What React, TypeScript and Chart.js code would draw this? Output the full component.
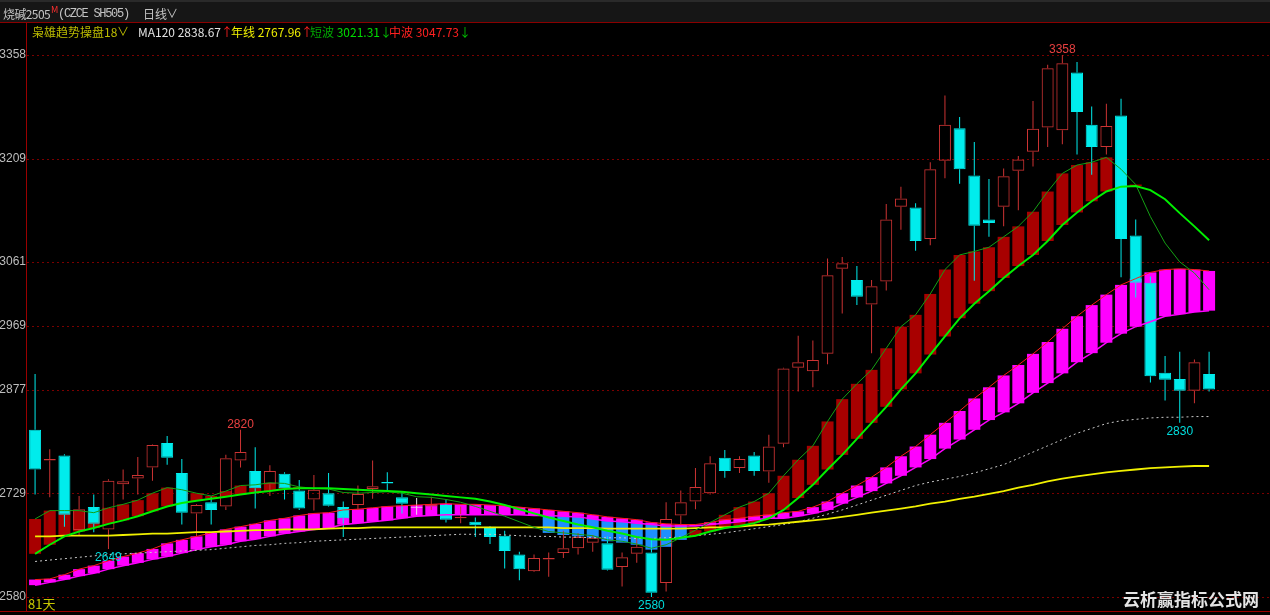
import React, { useEffect, useRef } from 'react';
import { Chart, registerables } from 'chart.js';

Chart.register(...registerables);

// ---------- data ----------
const OPEN = [2820,2776,2783,2676,2709,2677,2742,2750,2766,2801,
  2758,2700,2716,2710,2776,2761,2742,2757,2733,2720,
  2729,2709,2712,2735,2745,2723,2708,2710,2712,2693,
  2688,2681,2668,2641,2617,2634,2643,2650,2658,2657,
  2623,2642,2644,2600,2697,2717,2729,2780,2765,2783,
  2760,2800,2909,2904,2929,3051,3035,3000,3033,3140,
  3139,3094,3206,3253,3185,3122,3140,3192,3219,3254,
  3250,3333,3258,3226,3271,3099,3031,2902,2893,2876,
  2900];
const HIGH = [2900,2792,2785,2725,2727,2749,2763,2781,2799,2811,
  2778,2713,2724,2784,2820,2795,2769,2759,2748,2755,
  2758,2717,2740,2776,2759,2731,2722,2724,2720,2710,
  2694,2682,2675,2645,2641,2644,2675,2672,2669,2667,
  2644,2665,2662,2716,2733,2765,2782,2791,2782,2788,
  2813,2909,2955,2948,3066,3068,3055,3035,3144,3169,
  3145,3204,3300,3269,3233,3180,3195,3213,3292,3344,
  3358,3348,3284,3288,3295,3122,3040,2926,2932,2921,
  2932];
const LOW = [2727,2723,2681,2669,2673,2649,2720,2727,2747,2770,
  2684,2667,2684,2705,2766,2707,2725,2720,2705,2704,
  2710,2666,2705,2721,2732,2700,2698,2705,2687,2686,
  2666,2656,2621,2604,2616,2609,2636,2641,2645,2618,
  2595,2629,2580,2588,2684,2706,2727,2751,2758,2754,
  2744,2795,2875,2881,2914,2987,2999,2930,3020,3107,
  3077,3085,3181,3173,3034,3097,3112,3135,3198,3226,
  3230,3215,3186,3215,3039,3010,2888,2862,2830,2858,
  2875];
const CLOSE = [2763,2778,2698,2706,2685,2747,2746,2755,2798,2780,
  2701,2712,2705,2779,2788,2736,2761,2736,2707,2734,
  2711,2693,2728,2739,2743,2714,2708,2713,2691,2695,
  2683,2666,2646,2620,2636,2636,2650,2666,2665,2619,
  2637,2652,2586,2692,2716,2738,2772,2761,2778,2761,
  2796,2908,2917,2920,3042,3059,3011,3026,3122,3152,
  3091,3194,3258,3194,3113,3117,3184,3208,3252,3339,
  3346,3276,3226,3256,3094,3031,2897,2892,2876,2917,
  2878];

// 短波 (thin dark green)
const SHORT_WAVE = [2692,2704,2704,2704,2701,2708,2713,2719,2729,2737,
  2734,2729,2725,2732,2740,2741,2744,2743,2738,2736,
  2735,2730,2729,2730,2731,2729,2724,2723,2720,2716,
  2710,2703,2696,2688,2680,2674,2672,2670,2668,2662,
  2660,2656,2650,2655,2665,2676,2687,2698,2709,2717,
  2729,2754,2777,2797,2832,2864,2886,2906,2937,2968,
  2985,3015,3050,3071,3076,3082,3097,3112,3133,3162,
  3188,3200,3204,3211,3194,3172,3126,3088,3061,3045,
  3021];
// bright green trend line
const TREND = [2642,2655,2667,2674,2679,2685,2690,2696,2703,2710,
  2715,2718,2721,2724,2727,2730,2732,2735,2736,2736,
  2736,2735,2734,2733,2732,2731,2729,2727,2725,2723,
  2721,2717,2712,2706,2700,2694,2689,2684,2680,2675,
  2671,2666,2663,2662,2665,2668,2674,2679,2682,2686,
  2693,2705,2722,2741,2763,2784,2807,2830,2853,2878,
  2901,2928,2954,2980,3001,3019,3038,3055,3071,3091,
  3114,3132,3148,3162,3169,3170,3164,3151,3131,3112,
  3092];
// 中波 band: upper (red line) and lower (magenta line)
const MID_UPPER = [2605,2606,2612,2620,2625,2632,2638,2643,2649,2657,
  2662,2667,2672,2677,2681,2685,2690,2693,2697,2700,
  2701,2705,2706,2708,2710,2711,2712,2713,2714,2713,
  2713,2712,2711,2709,2707,2705,2703,2701,2698,2695,
  2693,2691,2687,2685,2684,2684,2687,2691,2693,2696,
  2698,2701,2703,2709,2717,2729,2740,2752,2766,2782,
  2796,2813,2830,2847,2865,2881,2898,2913,2929,2946,
  2965,2983,2999,3014,3028,3037,3046,3050,3051,3050,
  3048];
const MID_LOWER = [2597,2601,2605,2610,2614,2620,2625,2629,2634,2638,
  2643,2648,2652,2655,2660,2663,2667,2671,2674,2677,
  2679,2684,2686,2688,2690,2693,2696,2697,2698,2698,
  2698,2698,2698,2698,2697,2697,2696,2695,2692,2689,
  2688,2686,2684,2682,2682,2682,2684,2686,2688,2691,
  2693,2693,2696,2700,2705,2714,2723,2732,2743,2754,
  2766,2778,2793,2806,2820,2834,2845,2858,2873,2887,
  2901,2917,2930,2945,2958,2968,2975,2983,2986,2989,
  2991];
const MA120 = [2631,2633,2635,2637,2639,2641,2642,2643,2644,2645,
  2646,2647,2648,2650,2652,2654,2655,2657,2658,2660,
  2661,2662,2663,2664,2665,2666,2667,2668,2669,2670,
  2670,2670,2669,2668,2667,2667,2666,2666,2665,2665,
  2665,2664,2664,2665,2666,2668,2670,2672,2675,2678,
  2681,2684,2688,2693,2699,2705,2712,2719,2726,2733,
  2740,2745,2749,2753,2758,2764,2770,2779,2788,2797,
  2806,2815,2822,2829,2833,2835,2837,2838,2838,2839,
  2839];
const YEAR_LINE = [2667,2667,2668,2668,2668,2668,2669,2670,2671,2671,
  2672,2673,2673,2674,2675,2676,2676,2677,2677,2677,
  2678,2679,2679,2680,2680,2680,2680,2680,2680,2680,
  2680,2680,2680,2680,2680,2680,2679,2679,2679,2678,
  2678,2678,2678,2678,2678,2679,2680,2680,2681,2683,
  2684,2686,2688,2690,2692,2695,2698,2701,2704,2707,
  2710,2714,2717,2721,2724,2728,2732,2737,2741,2746,
  2750,2753,2756,2759,2761,2763,2765,2766,2767,2768,
  2768];
// blue segment (indices 35..44)
const BLUE_START = 35;
const BLUE_LOW = [2672,2669,2667,2665,2660,2658,2655,2648,2652,2662];
const BLUE_HIGH = [2697,2696,2695,2692,2689,2688,2686,2684,2682,2682];

const Y_TICKS = [2580, 2729, 2877, 2969, 3061, 3209, 3358];
const MARKS = [
  { index: 14, kind: 'high', color: '#e84040' },
  { index: 70, kind: 'high', color: '#e84040' },
  { index: 5, kind: 'low', color: '#00dcdc' },
  { index: 42, kind: 'low', color: '#00dcdc' },
  { index: 78, kind: 'low', color: '#00dcdc' },
];

// ---------- scale extents / style ----------
const X_MIN = -0.55;
const X_MAX = 84.15;
const Y_MIN = 2559.9;
const Y_MAX = 3403.9;

const UP = '#cc3333';
const DOWN = '#00ecec';
const DOJI = '#e6e6e6';
const GRID_COLOR = '#7a0000';
const FRAME_COLOR = '#9a0000';

const N = OPEN.length;
const IDX = Array.from({ length: N }, (_, i) => i);

function candleColor(i: number) {
  if (CLOSE[i] > OPEN[i]) return UP;
  if (CLOSE[i] < OPEN[i]) return DOWN;
  return DOJI;
}

const lineData = (arr: number[]) => IDX.map((i) => ({ x: i, y: arr[i] }));

const framePlugin = {
  id: 'frame',
  beforeDatasetsDraw(chart: any) {
    const { ctx, chartArea, scales } = chart;
    const y = scales.y;
    ctx.save();
    ctx.strokeStyle = GRID_COLOR;
    ctx.lineWidth = 1;
    ctx.setLineDash([2, 3]);
    Y_TICKS.forEach((t) => {
      const py = Math.round(y.getPixelForValue(t)) + 0.5;
      ctx.beginPath();
      ctx.moveTo(chartArea.left, py);
      ctx.lineTo(chartArea.right, py);
      ctx.stroke();
    });
    ctx.restore();
  },
  afterDraw(chart: any) {
    const { ctx, chartArea, scales } = chart;
    const x = scales.x;
    const y = scales.y;
    ctx.save();
    ctx.strokeStyle = FRAME_COLOR;
    ctx.lineWidth = 1;
    ctx.beginPath();
    ctx.moveTo(chartArea.left - 0.5, chartArea.top - 1);
    ctx.lineTo(chartArea.left - 0.5, chartArea.bottom + 1);
    ctx.moveTo(0, chartArea.bottom + 0.5);
    ctx.lineTo(chartArea.right, chartArea.bottom + 0.5);
    ctx.stroke();

    ctx.font = '12px "Liberation Sans", Arial, sans-serif';
    ctx.fillStyle = '#bdbdbd';
    ctx.textAlign = 'right';
    ctx.textBaseline = 'middle';
    Y_TICKS.forEach((t) => ctx.fillText(String(t), chartArea.left - 1, y.getPixelForValue(t)));

    ctx.textAlign = 'center';
    ctx.textBaseline = 'alphabetic';
    MARKS.forEach((m) => {
      const v = m.kind === 'high' ? HIGH[m.index] : LOW[m.index];
      const px = x.getPixelForValue(m.index);
      const py = y.getPixelForValue(v);
      ctx.fillStyle = m.color;
      if (m.kind === 'high') ctx.fillText(String(v), px, py - 2);
      else ctx.fillText(String(v), px, py + 12);
    });
    ctx.restore();
  },
};

function buildConfig(): any {
  const barCommon = {
    type: 'bar',
    grouped: false,
    inflateAmount: 0,
    borderWidth: 0,
  };
  const datasets: any[] = [
    // lines (on top)
    { type: 'line', label: 'trend', data: lineData(TREND), borderColor: '#00f000', borderWidth: 2, pointRadius: 0, tension: 0, order: 0 },
    { type: 'line', label: '短波', data: lineData(SHORT_WAVE), borderColor: '#14a014', borderWidth: 1, pointRadius: 0, tension: 0, order: 1 },
    { type: 'line', label: '年线', data: lineData(YEAR_LINE), borderColor: '#f0f000', borderWidth: 1.8, pointRadius: 0, tension: 0, order: 2 },
    { type: 'line', label: 'MA120', data: lineData(MA120), borderColor: '#c8c8c8', borderWidth: 1, borderDash: [2, 3], pointRadius: 0, tension: 0, order: 3 },
    { type: 'line', label: '中波', data: lineData(MID_UPPER), borderColor: '#ff1a1a', borderWidth: 1, pointRadius: 0, tension: 0, order: 4 },
    { type: 'line', label: '中波下', data: lineData(MID_LOWER), borderColor: '#ff00ff', borderWidth: 1.5, pointRadius: 0, tension: 0, order: 5 },
    // candle bodies
    {
      ...barCommon,
      label: 'body',
      data: IDX.map((i) => ({ x: i, y: [OPEN[i], CLOSE[i]] })),
      backgroundColor: IDX.map((i) => (CLOSE[i] > OPEN[i] ? 'rgba(0,0,0,0)' : candleColor(i))),
      borderColor: IDX.map((i) => candleColor(i)),
      borderWidth: 1,
      borderSkipped: false,
      minBarLength: 1,
      barThickness: 12,
      maxBarThickness: 12,
      order: 10,
    },
    // wicks
    {
      ...barCommon,
      label: 'upper wick',
      data: IDX.map((i) => ({ x: i, y: [Math.max(OPEN[i], CLOSE[i]), HIGH[i]] })),
      backgroundColor: IDX.map((i) => candleColor(i)),
      barThickness: 1,
      maxBarThickness: 1,
      order: 11,
    },
    {
      ...barCommon,
      label: 'lower wick',
      data: IDX.map((i) => ({ x: i, y: [LOW[i], Math.min(OPEN[i], CLOSE[i])] })),
      backgroundColor: IDX.map((i) => candleColor(i)),
      barThickness: 1,
      maxBarThickness: 1,
      order: 12,
    },
    // magenta band
    {
      ...barCommon,
      label: 'mid band',
      data: IDX.map((i) => ({ x: i, y: [MID_LOWER[i], MID_UPPER[i]] })),
      backgroundColor: '#ff00ff',
      barThickness: 12,
      maxBarThickness: 12,
      order: 20,
    },
    // red band between 短波 and trend
    {
      ...barCommon,
      label: 'red band',
      data: IDX.filter((i) => SHORT_WAVE[i] > TREND[i]).map((i) => ({ x: i, y: [TREND[i], SHORT_WAVE[i]] })),
      backgroundColor: '#a80000',
      barThickness: 12,
      maxBarThickness: 12,
      order: 21,
    },
    // blue band
    {
      ...barCommon,
      label: 'blue band',
      data: BLUE_LOW.map((lo, k) => ({ x: BLUE_START + k, y: [lo, BLUE_HIGH[k]] })),
      backgroundColor: '#1e8fff',
      barThickness: 12,
      maxBarThickness: 12,
      order: 22,
    },
  ];

  return {
    type: 'bar',
    data: { datasets },
    options: {
      responsive: false,
      maintainAspectRatio: false,
      animation: false,
      events: [],
      layout: { padding: { left: 27, top: 23, right: 0, bottom: 4 } },
      plugins: { legend: { display: false }, tooltip: { enabled: false } },
      scales: {
        x: { type: 'linear', min: X_MIN, max: X_MAX, display: false, offset: false },
        y: { type: 'linear', min: Y_MIN, max: Y_MAX, display: false },
      },
    },
    plugins: [framePlugin],
  };
}

const FONT = '"Noto Sans CJK SC", "Noto Sans", sans-serif';

function T(props: { left: number; top: number; color: string; size?: number; children: any; style?: any }) {
  return (
    <span
      style={{
        position: 'absolute',
        left: props.left,
        top: props.top,
        color: props.color,
        fontSize: props.size ?? 12,
        lineHeight: '14px',
        whiteSpace: 'pre',
        fontFamily: FONT,
        ...(props.style || {}),
      }}
    >
      {props.children}
    </span>
  );
}

export default function App() {
  const ref = useRef<HTMLCanvasElement>(null);
  useEffect(() => {
    document.body.style.margin = '0';
    document.body.style.background = '#000';
    const chart = new Chart(ref.current as HTMLCanvasElement, buildConfig());
    return () => chart.destroy();
  }, []);

  return (
    <div style={{ position: 'fixed', left: 0, top: 0, width: 1270, height: 615, background: '#000', overflow: 'hidden' }}>
      <canvas ref={ref} width={1270} height={615} style={{ position: 'absolute', left: 0, top: 0, width: 1270, height: 615 }} />
      {/* header bar */}
      <div style={{ position: 'absolute', left: 0, top: 0, width: 1270, height: 20, background: '#161616', borderTop: '2px solid #2a2a2a', borderBottom: '1px solid #8a0000' }} />
      <T left={3} top={7} color="#c4c4c4" style={{ letterSpacing: '-0.6px' }}>烧碱2505</T>
      <T left={51} top={3} color="#ff3030" size={9}>M</T>
      <T left={58} top={7} color="#c4c4c4" size={12} style={{ fontFamily: '"Liberation Mono", "DejaVu Sans Mono", monospace', letterSpacing: '-1.3px' }}>(CZCE SH505)</T>
      <T left={143} top={7} color="#c4c4c4">日线</T>
      <T left={166} top={6} color="#c4c4c4">∨</T>
      {/* legend row */}
      <T left={32} top={25} color="#bcbc00">枭雄趋势操盘18</T>
      <T left={117} top={24} color="#bcbc00">∨</T>
      <T left={138} top={25} color="#e2e2e2">MA120 2838.67<span style={{ color: '#ff2020' }}>↑</span></T>
      <T left={231} top={25} color="#eeee00">年线 2767.96<span style={{ color: '#ff2020' }}>↑</span></T>
      <T left={310} top={25} color="#00a800">短波<span style={{ color: '#00dd00' }}> 3021.31</span><span style={{ color: '#00c000' }}>↓</span></T>
      <T left={389} top={25} color="#ff2020">中波 3047.73<span style={{ color: '#00c000' }}>↓</span></T>
      {/* bottom texts */}
      <T left={28} top={597} color="#c8c800" size={13}>81天</T>
      <T left={1123} top={590} color="#e4e4e4" size={17} style={{ fontWeight: 'bold', lineHeight: '18px' }}>云析赢指标公式网</T>
    </div>
  );
}
